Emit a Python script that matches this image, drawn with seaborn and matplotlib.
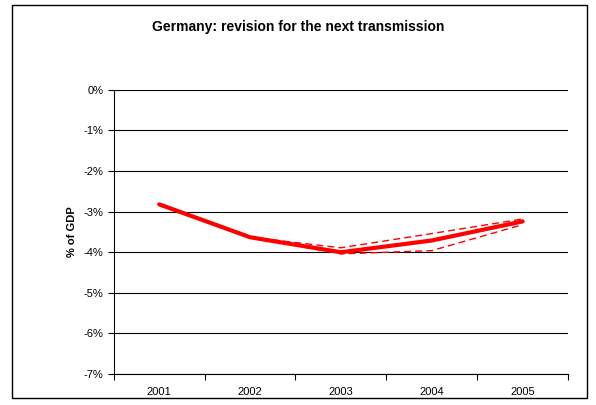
import matplotlib
matplotlib.use("Agg")
import matplotlib.pyplot as plt
import matplotlib.patches as mpatches
import numpy as np
import pandas as pd
import seaborn as sns

# Datos
years = ["2001", "2002", "2003", "2004", "2005"]
central = [-2.82, -3.63, -4.00, -3.71, -3.24]
upper = [np.nan, -3.63, -3.89, -3.54, -3.18]
lower = [np.nan, -3.63, -4.04, -3.96, -3.32]
yticks = [0, -1, -2, -3, -4, -5, -6, -7]

sns.set_style("white")
plt.rcParams["font.family"] = ["Liberation Sans", "DejaVu Sans"]
plt.rcParams["text.color"] = "black"
plt.rcParams["axes.labelcolor"] = "black"
plt.rcParams["xtick.color"] = "black"
plt.rcParams["ytick.color"] = "black"

fig = plt.figure(figsize=(5.96, 4.05), dpi=100)
ax = fig.add_axes([0.191, 0.0765, 0.762, 0.7015])

pos = np.arange(len(years))
df = pd.DataFrame({"pos": pos, "central": central, "upper": upper, "lower": lower})

sns.lineplot(data=df, x="pos", y="upper", ax=ax, color="red", lw=1.0,
             linestyle=(0, (5, 3)))
sns.lineplot(data=df, x="pos", y="lower", ax=ax, color="red", lw=1.0,
             linestyle=(0, (5, 3)))
sns.lineplot(data=df, x="pos", y="central", ax=ax, color="red", lw=3.0)

ax.set_xlim(-0.5, len(years) - 0.5)
ax.set_ylim(-7, 0)
ax.set_yticks(yticks)
ax.set_yticklabels([f"{v}%" for v in yticks], fontsize=8)
for v in yticks:
    ax.axhline(v, color="black", lw=0.8, zorder=0)

# ticks entre categorias, etiquetas centradas
ax.set_xticks(np.arange(-0.5, len(years), 1.0))
ax.set_xticklabels([])
ax.set_xticks(pos, minor=True)
ax.set_xticklabels(years, minor=True, fontsize=8)
ax.tick_params(axis="x", which="major", direction="out", length=4, width=0.8,
               bottom=True)
ax.tick_params(axis="x", which="minor", length=0, pad=9)
ax.tick_params(axis="y", direction="out", length=4, width=0.8, left=True)

for side in ["top", "right"]:
    ax.spines[side].set_visible(False)
for side in ["left", "bottom"]:
    ax.spines[side].set_color("black")
    ax.spines[side].set_linewidth(0.8)

ax.set_xlabel("")
ax.set_ylabel("% of GDP", fontsize=8, fontweight="bold", labelpad=5)
fig.text(0.5, 0.933, "Germany: revision for the next transmission",
         ha="center", va="center", fontsize=10, fontweight="bold")

# marco del grafico
fig.patches.append(mpatches.Rectangle((0.020, 0.017), 0.965, 0.970,
                                      transform=fig.transFigure, fill=False,
                                      edgecolor="black", lw=1.0))

fig.savefig("out.png", dpi=100)
